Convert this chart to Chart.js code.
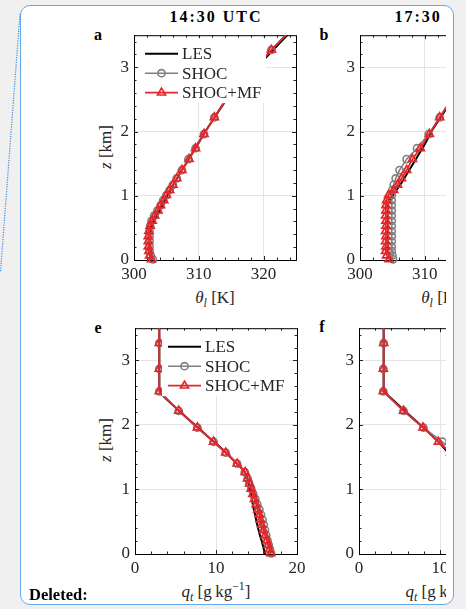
<!DOCTYPE html>
<html>
<head>
<meta charset="utf-8">
<script src="https://cdn.jsdelivr.net/npm/chart.js@4.4.0/dist/chart.umd.min.js"></script>
<style>
html, body { margin: 0; padding: 0; }
body { width: 466px; height: 609px; background: #f0f0f0; position: relative; overflow: hidden;
       font-family: "Liberation Serif", serif; color: #262626; }
#sheet { position: absolute; left: 20px; top: 5px; width: 434px; height: 600px; box-sizing: border-box;
         background: #fff; border: 1.5px solid #64a9e8; border-radius: 10px; }
#trail { position: absolute; left: 0; top: 0; }
#clip { position: absolute; left: 0; top: 0; width: 446px; height: 609px; overflow: hidden; }
.panel { position: absolute; width: 230px; height: 300px; }
.txt { position: absolute; white-space: nowrap; transform: translate(-50%, -50%); }
.title { font-weight: bold; font-size: 16px; letter-spacing: 2px; color: #000; }
.letter { font-weight: bold; font-size: 16px; color: #000; }
.xlab { font-size: 17px; }
.ylab { font-size: 17px; transform: translate(-50%, -50%) rotate(-90deg); }
sub, sup { font-size: 70%; line-height: 0; }
#deleted { position: absolute; left: 29px; top: 585px; font-weight: bold; font-size: 16.5px; color: #000; }
</style>
</head>
<body>
<div id="sheet"></div>
<svg id="trail" width="24" height="280"><line x1="20" y1="14" x2="0.5" y2="272" stroke="#3f8fdc" stroke-width="1.2" stroke-dasharray="1.2 1.2"/></svg>
<div id="clip">
  <div class="txt title" style="left:216px;top:17px">14:30 UTC</div>
  <div class="txt title" style="left:441px;top:17px">17:30 UTC</div>
  <div class="txt letter" style="left:98px;top:35px">a</div>
  <div class="txt letter" style="left:324px;top:35px">b</div>
  <div class="txt letter" style="left:98px;top:328px">e</div>
  <div class="txt letter" style="left:322px;top:327px">f</div>
  <div class="txt ylab" style="left:106px;top:147px"><i>z</i> [km]</div>
  <div class="txt ylab" style="left:106px;top:440px"><i>z</i> [km]</div>
  <div class="txt xlab" style="left:215px;top:298px"><i>θ</i><sub><i>l</i></sub> [K]</div>
  <div class="txt xlab" style="left:441px;top:298px"><i>θ</i><sub><i>l</i></sub> [K]</div>
  <div class="txt xlab" style="left:216px;top:592px"><i>q</i><sub><i>t</i></sub> [g&#8201;kg<sup>−1</sup>]</div>
  <div class="txt xlab" style="left:440px;top:592px"><i>q</i><sub><i>t</i></sub> [g&#8201;kg<sup>−1</sup>]</div>
  <div class="panel" style="left:84px;top:20px"><canvas id="pa" width="230" height="300"></canvas></div>
  <div class="panel" style="left:310px;top:20px"><canvas id="pb" width="230" height="300"></canvas></div>
  <div class="panel" style="left:85px;top:313px"><canvas id="pe" width="230" height="300"></canvas></div>
  <div class="panel" style="left:309px;top:313px"><canvas id="pf" width="230" height="300"></canvas></div>
</div>
<div id="deleted">Deleted:</div>
<script>
'use strict';

// model levels (km) for SHOC / SHOC+MF, LES output levels
var zLevels = [0.01, 0.07, 0.14, 0.21, 0.29, 0.37, 0.45, 0.53, 0.61, 0.69, 0.77, 0.85, 0.93,
               1.01, 1.09, 1.17, 1.27, 1.40, 1.57, 1.74, 1.96, 2.22, 2.52, 2.87, 3.27, 3.72];
var lesZ = [0, 0.05, 0.1, 0.2, 0.3, 0.4, 0.5, 0.6, 0.7, 0.8, 0.9, 1.0, 1.1, 1.2, 1.3, 1.4, 1.5,
            1.6, 1.7, 1.8, 1.9, 2.0, 2.2, 2.4, 2.5, 2.6, 2.8, 3.0, 3.2, 3.4, 3.6, 3.8];

var seriesNames = ['LES', 'SHOC', 'SHOC+MF'];

// theta_l [K], 14:30 UTC
var lesTheta1430 = [302.8, 302.6, 302.5, 302.4, 302.4, 302.5, 302.7, 303.1, 303.6, 304.1, 304.6, 305.1,
                    305.7, 306.2, 306.8, 307.4, 308.0, 308.6, 309.2, 309.8, 310.4, 311.0, 312.3, 313.6,
                    314.3, 315.2, 317.0, 318.9, 320.8, 322.7, 324.6, 326.5];
var shocTheta1430 = [302.9, 302.6, 302.4, 302.4, 302.4, 302.4, 302.4, 302.5, 302.7, 303.1, 303.6, 304.1, 304.5,
                     305.0, 305.5, 306.0, 306.6, 307.4, 308.4, 309.5, 310.8, 312.4, 314.3, 317.6, 321.2, 325.5];
var mfTheta1430 = [302.7, 302.4, 302.3, 302.2, 302.2, 302.2, 302.3, 302.5, 302.8, 303.2, 303.7, 304.1, 304.6,
                   305.0, 305.5, 306.0, 306.6, 307.4, 308.5, 309.5, 310.8, 312.4, 314.3, 317.6, 321.2, 325.5];

// theta_l [K], 17:30 UTC
var lesTheta1730 = [304.7, 304.5, 304.4, 304.3, 304.3, 304.3, 304.3, 304.3, 304.3, 304.3, 304.35, 305.0,
                    305.7, 306.4, 307.0, 307.6, 308.2, 308.8, 309.4, 310.0, 310.5, 311.0, 312.3, 313.6,
                    314.2, 315.1, 316.9, 318.9, 320.8, 322.7, 324.6, 326.5];
var shocTheta1730 = [305.1, 305.0, 304.9, 304.9, 304.9, 304.9, 304.9, 304.9, 304.9, 304.9, 304.9, 304.9, 304.9,
                     304.9, 305.0, 305.2, 305.5, 306.1, 307.2, 308.8, 310.6, 312.3, 314.2, 317.5, 321.2, 325.5];
var mfTheta1730 = [304.5, 304.1, 303.95, 304.0, 303.95, 304.0, 303.95, 304.0, 304.0, 303.95, 304.0, 304.0, 304.1,
                   304.4, 305.2, 305.8, 306.4, 307.2, 308.1, 309.3, 310.7, 312.3, 314.2, 317.5, 321.2, 325.5];

// q_t [g/kg], 14:30 UTC
var lesQt1430 = [16.0, 15.95, 15.85, 15.65, 15.4, 15.2, 15.0, 14.85, 14.65, 14.5, 14.35, 14.2, 14.0, 13.8,
                 13.4, 12.6, 11.8, 11.0, 10.1, 9.2, 8.3, 7.4, 5.6, 3.9, 3.1, 3.0, 3.0, 3.0, 3.0, 3.0, 3.0, 3.0];
var shocQt1430 = [16.8, 16.65, 16.5, 16.35, 16.2, 16.05, 15.9, 15.75, 15.55, 15.35, 15.1, 14.85, 14.6,
                  14.35, 14.1, 13.9, 13.55, 12.6, 11.2, 9.7, 7.7, 5.4, 3.0, 3.0, 3.0, 3.0];
var mfQt1430 = [16.75, 16.6, 16.45, 16.3, 16.05, 15.85, 15.65, 15.5, 15.35, 15.15, 14.95, 14.75, 14.55,
                14.35, 14.15, 13.9, 13.6, 12.6, 11.2, 9.7, 7.7, 5.4, 3.0, 3.0, 3.0, 3.0];

// q_t [g/kg], 17:30 UTC
var lesQt1730 = [15.8, 15.75, 15.7, 15.65, 15.6, 15.55, 15.5, 15.45, 15.4, 15.35, 15.3, 15.0, 14.2, 13.5,
                 12.9, 12.3, 11.6, 10.8, 10.1, 9.3, 8.5, 7.6, 5.8, 4.1, 3.2, 3.05, 3.05, 3.05, 3.05, 3.05, 3.05, 3.05];
var shocQt1730 = [16.3, 16.2, 16.1, 16.05, 16.0, 15.95, 15.9, 15.85, 15.8, 15.75, 15.7, 15.65, 15.6,
                  15.4, 14.8, 14.1, 13.4, 12.7, 11.8, 10.3, 7.95, 5.5, 3.0, 3.0, 3.05, 3.05];
var mfQt1730 = [16.1, 16.0, 15.9, 15.85, 15.8, 15.75, 15.7, 15.65, 15.6, 15.55, 15.5, 15.45, 15.4,
                15.1, 14.3, 13.6, 13.0, 12.3, 11.3, 9.8, 7.9, 5.5, 3.0, 3.0, 3.05, 3.05];

var thetaTicks = [300, 310, 320];
var qtTicks = [0, 10, 20];
var zTicks = [0, 1, 2, 3];

var TICK_FONT = { family: 'Liberation Serif', size: 17 };
var CANVAS_W = 230, CANVAS_H = 300, YAXIS_W = 40, XAXIS_H = 30;

function pairs(xs, zs) {
  return xs.map(function (x, i) { return { x: x, y: zs[i] }; });
}

// box frame plus inward major/minor ticks on all four sides
var axesBox = {
  id: 'axesBox',
  beforeDatasetsDraw: function (chart, args, opts) {
    var a = chart.chartArea, ctx = chart.ctx;
    var xs = chart.scales.x, ys = chart.scales.y;
    ctx.save();
    ctx.strokeStyle = '#262626';
    ctx.lineWidth = 1;
    ctx.beginPath();
    var i, v, p, len;
    for (i = 0; xs.min + i * opts.xStep <= xs.max + 1e-9; i++) {
      v = xs.min + i * opts.xStep;
      len = opts.xMajor.indexOf(Math.round(v)) >= 0 ? 4 : 2.5;
      p = Math.round(xs.getPixelForValue(v)) + 0.5;
      ctx.moveTo(p, a.bottom); ctx.lineTo(p, a.bottom - len);
      ctx.moveTo(p, a.top); ctx.lineTo(p, a.top + len);
    }
    for (i = 0; ys.min + i * opts.yStep <= ys.max + 1e-9; i++) {
      v = ys.min + i * opts.yStep;
      len = Math.abs(v - Math.round(v)) < 1e-6 ? 4 : 2.5;
      p = Math.round(ys.getPixelForValue(v)) + 0.5;
      ctx.moveTo(a.left, p); ctx.lineTo(a.left + len, p);
      ctx.moveTo(a.right, p); ctx.lineTo(a.right - len, p);
    }
    ctx.stroke();
    ctx.strokeStyle = '#000';
    ctx.strokeRect(a.left + 0.5, a.top + 0.5, a.right - a.left, a.bottom - a.top);
    ctx.restore();
  }
};

function marker(ctx, style, x, y, r) {
  ctx.beginPath();
  if (style === 'triangle') {
    ctx.moveTo(x, y - r);
    ctx.lineTo(x + r * 0.866, y + r * 0.5);
    ctx.lineTo(x - r * 0.866, y + r * 0.5);
    ctx.closePath();
  } else {
    ctx.arc(x, y, r, 0, Math.PI * 2);
  }
  ctx.stroke();
}

// white legend box sitting inside the axes, line sample with marker in the middle
var boxLegend = {
  id: 'boxLegend',
  afterDatasetsDraw: function (chart, args, opts) {
    if (!opts.show) return;
    var a = chart.chartArea, ctx = chart.ctx;
    var bx = a.left + opts.dx, by = a.top + opts.dy;
    ctx.save();
    ctx.fillStyle = '#fff';
    ctx.fillRect(bx, by, 127, 65);
    ctx.font = '17px "Liberation Serif"';
    ctx.textBaseline = 'middle';
    chart.data.datasets.forEach(function (ds, i) {
      var cy = by + 15.5 + i * 19.5;
      var x0 = bx + 6, x1 = x0 + 33;
      ctx.strokeStyle = ds.borderColor;
      ctx.lineWidth = ds.borderWidth;
      ctx.beginPath(); ctx.moveTo(x0, cy); ctx.lineTo(x1, cy); ctx.stroke();
      if (ds.pointRadius > 0) {
        ctx.lineWidth = ds.pointBorderWidth;
        marker(ctx, ds.pointStyle, (x0 + x1) / 2, cy, ds.pointRadius);
      }
      ctx.fillStyle = '#262626';
      ctx.fillText(ds.label, x1 + 4, cy + 1);
    });
    ctx.restore();
  }
};

function profileSets(les, shoc, mf) {
  var clip = { left: 0, top: 0, right: 0, bottom: 6 };
  return [
    { label: seriesNames[0], data: pairs(les, lesZ), showLine: true, borderColor: '#000', borderWidth: 2,
      pointRadius: 0, clip: clip, order: 3 },
    { label: seriesNames[1], data: pairs(shoc, zLevels), showLine: true, borderColor: '#808080', borderWidth: 1.6,
      pointStyle: 'circle', pointRadius: 3.6, pointBorderWidth: 1.6, pointBorderColor: '#808080',
      pointBackgroundColor: 'rgba(0,0,0,0)', clip: clip, order: 2 },
    { label: seriesNames[2], data: pairs(mf, zLevels), showLine: true, borderColor: '#e3262b', borderWidth: 1.8,
      pointStyle: 'triangle', pointRadius: 4.6, pointBorderWidth: 1.7, pointBorderColor: '#e3262b',
      pointBackgroundColor: 'rgba(0,0,0,0)', clip: clip, order: 1 }
  ];
}

function makePanel(p) {
  var ticksOf = function (list) {
    return function (s) { s.ticks = list.map(function (v) { return { value: v }; }); };
  };
  return new Chart(document.getElementById(p.id), {
    type: 'scatter',
    data: { datasets: profileSets(p.les, p.shoc, p.mf) },
    plugins: [axesBox, boxLegend],
    options: {
      responsive: false,
      animation: false,
      events: [],
      layout: {
        padding: {
          left: p.area[0] - p.left - YAXIS_W,
          top: p.area[1] - p.top,
          right: p.left + CANVAS_W - p.area[2],
          bottom: p.top + CANVAS_H - p.area[3] - XAXIS_H
        }
      },
      scales: {
        x: {
          type: 'linear', min: p.xRange[0], max: p.xRange[1],
          afterBuildTicks: ticksOf(p.xTicks),
          afterFit: function (s) { s.height = XAXIS_H; },
          grid: { color: '#e4e4e4', drawTicks: false },
          border: { color: '#000' },
          ticks: { padding: 4, font: TICK_FONT, color: '#262626', maxRotation: 0, autoSkip: false }
        },
        y: {
          type: 'linear', min: 0, max: 3.5,
          afterBuildTicks: ticksOf(zTicks),
          afterFit: function (s) { s.width = YAXIS_W; },
          grid: { color: '#e4e4e4', drawTicks: false },
          border: { color: '#000' },
          ticks: { padding: 5, font: TICK_FONT, color: '#262626', autoSkip: false }
        }
      },
      plugins: {
        legend: { display: false },
        tooltip: { enabled: false },
        axesBox: { xStep: 2, yStep: 0.2, xMajor: p.xTicks },
        boxLegend: p.legend
      }
    }
  });
}

var panels = [
  { id: 'pa', left: 84, top: 20, area: [134, 33, 296, 260], xRange: [300, 325], xTicks: thetaTicks,
    les: lesTheta1430, shoc: shocTheta1430, mf: mfTheta1430, legend: { show: true, dx: 5, dy: 3 } },
  { id: 'pb', left: 310, top: 20, area: [360, 33, 522, 260], xRange: [300, 325], xTicks: thetaTicks,
    les: lesTheta1730, shoc: shocTheta1730, mf: mfTheta1730, legend: { show: false } },
  { id: 'pe', left: 85, top: 313, area: [135, 326, 297, 554], xRange: [0, 20], xTicks: qtTicks,
    les: lesQt1430, shoc: shocQt1430, mf: mfQt1430, legend: { show: true, dx: 27, dy: 3 } },
  { id: 'pf', left: 309, top: 313, area: [359, 326, 521, 554], xRange: [0, 20], xTicks: qtTicks,
    les: lesQt1730, shoc: shocQt1730, mf: mfQt1730, legend: { show: false } }
];

panels.forEach(makePanel);
</script>
</body>
</html>
